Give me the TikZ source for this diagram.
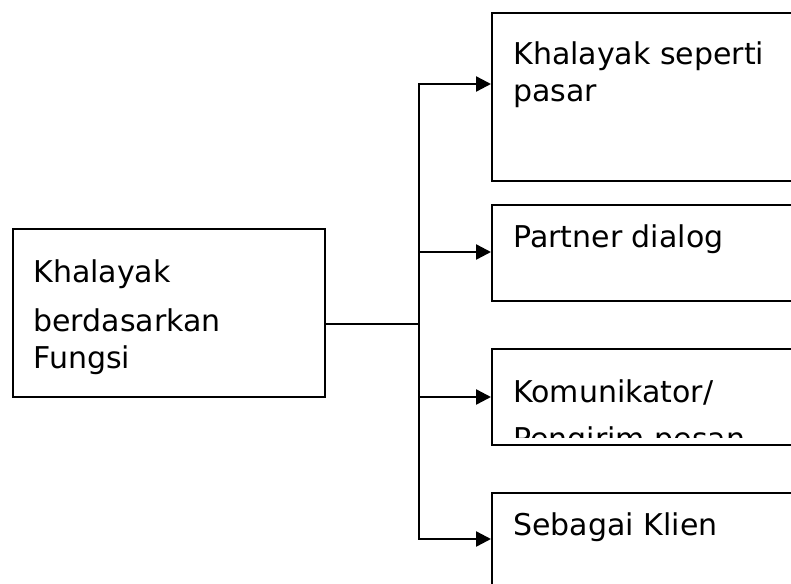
\documentclass[tikz,border=0pt]{standalone}
\usepackage{fontspec}
\setmainfont{DejaVu Sans}
\usetikzlibrary{arrows.meta,positioning}
\tikzset{
  box/.style={draw, line width=1pt, inner sep=0pt, anchor=north west},
  boxtext/.style={inner sep=0pt, anchor=base west, align=left,
    font=\fontsize{15}{18.5}\selectfont},
  link/.style={line width=1.2pt},
  arr/.style={link, -{Triangle[length=7.5pt,width=7.5pt]}}
}
\begin{document}
\begin{tikzpicture}[x=0.5pt,y=-0.5pt]
  \path[use as bounding box, clip] (0,0) rectangle (791,583);
  % boxes
  \node[box, minimum width=156pt, minimum height=84pt] (src) at (12,228) {};
  \node[box, minimum width=175pt, minimum height=84pt] (b1) at (491,12) {};
  \node[box, minimum width=175pt, minimum height=48pt] (b2) at (491,204) {};
  \node[box, minimum width=175pt, minimum height=48pt] (b3) at (491,348) {};
  \node[box, minimum width=175pt, minimum height=60pt] (b4) at (491,492) {};
  % texts (anchored at the baseline of the last line)
  \node[boxtext] (srct) at (33,368) {Khalayak\\[6pt]berdasarkan\\Fungsi};
  \node[boxtext] (t1) at (513,102) {Khalayak seperti\\pasar};
  \node[boxtext] (t2) at (513,247) {Partner dialog};
  \begin{scope}
    \clip (b3.north west) rectangle ([yshift=4.5pt]b3.south east);
    \node[boxtext] (t3) at (513,449) {Komunikator/\\[5pt]Pengirim pesan};
  \end{scope}
  \node[boxtext] (t4) at (513,535) {Sebagai Klien};
  % connectors
  \coordinate (mid) at (419,324);
  \draw[link] (mid -| src.east) -- (mid);
  \foreach \y/\b in {84/b1,252/b2,397/b3,539/b4}
    \coordinate (j\b) at (419,\y);
  \draw[link, line cap=rect] (jb1) -- (jb4);
  \foreach \b in {b1,b2,b3,b4}
    \draw[arr] (j\b) -- (j\b -| \b.west);
\end{tikzpicture}
\end{document}
